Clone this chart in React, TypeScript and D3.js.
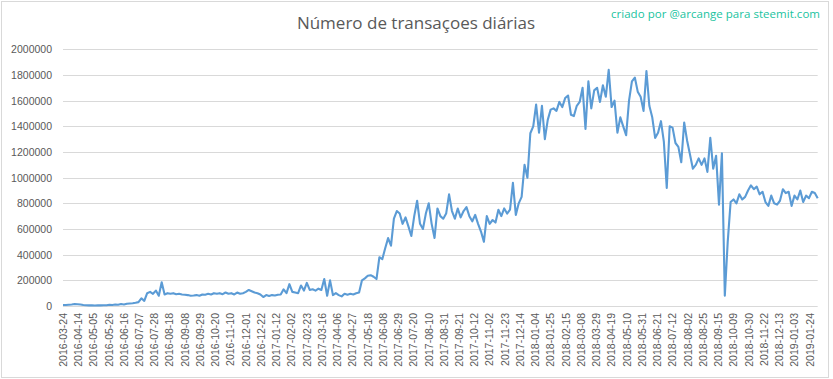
import React from "react";
import * as d3 from "d3";

const W = 833;
const H = 379;

const title = "Número de transaçoes diárias";
const credit = "criado por @arcange para steemit.com";

const xLabels = [
  "2016-03-24", "2016-04-14", "2016-05-05", "2016-05-26", "2016-06-16", "2016-07-07", "2016-07-28",
  "2016-08-18", "2016-09-08", "2016-09-29", "2016-10-20", "2016-11-10", "2016-12-01", "2016-12-22",
  "2017-01-12", "2017-02-02", "2017-02-23", "2017-03-16", "2017-04-06", "2017-04-27", "2017-05-18",
  "2017-06-08", "2017-06-29", "2017-07-20", "2017-08-10", "2017-08-31", "2017-09-21", "2017-10-12",
  "2017-11-02", "2017-11-23", "2017-12-14", "2018-01-04", "2018-01-25", "2018-02-15", "2018-03-08",
  "2018-03-29", "2018-04-19", "2018-05-10", "2018-05-31", "2018-06-21", "2018-07-12", "2018-08-02",
  "2018-08-25", "2018-09-15", "2018-10-09", "2018-10-30", "2018-11-22", "2018-12-13", "2019-01-03",
  "2019-01-24",
];
const labelStep = 21; // categories between labels
const sampleStep = 4; // categories between sampled values

const yTicks = [0, 200000, 400000, 600000, 800000, 1000000, 1200000, 1400000, 1600000, 1800000, 2000000];

// daily transactions (thousands), sampled every 4 days
const txThousands = [
  8, 8, 10, 12, 15, 14, 12, 8, 6, 5, 5, 4, 5, 5, 6, 6, 10, 8, 12, 10,
  15, 12, 18, 20, 22, 25, 30, 60, 40, 100, 110, 95, 120, 80, 185, 90, 100, 95, 100, 92,
  95, 90, 88, 85, 80, 82, 85, 80, 90, 88, 95, 90, 100, 95, 100, 92, 105, 95, 100, 90,
  105, 95, 100, 110, 125, 115, 105, 100, 90, 70, 85, 78, 85, 82, 88, 90, 130, 100, 170, 110,
  105, 100, 160, 120, 180, 125, 130, 120, 135, 125, 210, 80, 200, 85, 100, 85, 75, 95, 88, 95,
  90, 100, 105, 200, 215, 235, 240, 228, 210, 380, 365, 450, 529, 470, 680, 740, 720, 640, 690, 620,
  545, 700, 820, 640, 600, 720, 800, 640, 530, 760, 700, 680, 720, 870, 740, 680, 760, 690, 740, 770,
  700, 660, 710, 640, 580, 500, 700, 640, 670, 650, 750, 700, 760, 720, 750, 960, 710, 800, 850, 1100,
  1000, 1346, 1400, 1570, 1350, 1560, 1300, 1450, 1530, 1540, 1520, 1590, 1550, 1620, 1640, 1490, 1480, 1560, 1590, 1700,
  1380, 1750, 1540, 1680, 1700, 1590, 1720, 1630, 1840, 1550, 1600, 1350, 1470, 1400, 1330, 1600, 1750, 1780, 1670, 1630,
  1520, 1830, 1560, 1470, 1310, 1350, 1440, 1280, 920, 1400, 1390, 1270, 1240, 1120, 1430, 1290, 1180, 1070, 1100, 1150,
  1100, 1150, 1045, 1310, 1070, 1170, 790, 1190, 80, 500, 810, 830, 800, 870, 830, 850, 900, 940, 910, 930,
  870, 890, 810, 780, 860, 800, 790, 820, 910, 880, 890, 780, 860, 830, 900, 810, 860, 840, 890, 880,
  840,
];

const margin = { left: 63, right: W - 817.7, top: 49.3, bottom: H - 306 };

export default function App() {
  const lastIdx = (txThousands.length - 1) * sampleStep;
  const x = d3.scaleLinear().domain([0, lastIdx]).range([margin.left, W - margin.right]);
  const y = d3.scaleLinear().domain([0, 2000000]).range([H - margin.bottom, margin.top]);

  const line = d3
    .line<number>()
    .x((_, i) => x(i * sampleStep))
    .y((d) => y(d * 1000));

  const font = "'Liberation Sans', Arial, sans-serif";

  return (
    <svg
      width={W}
      height={H}
      style={{ position: "absolute", left: 0, top: 0, background: "#fff" }}
      fontFamily={font}
    >
      <rect x={0} y={0} width={W} height={H} fill="#fff" />
      <rect x={1.5} y={1.5} width={827} height={376} fill="none" stroke="#d9d9d9" strokeWidth={1} />
      <text x={416} y={29} textAnchor="middle" fontFamily="'Open Sans', sans-serif" fontSize={17} fill="#595959">
        {title}
      </text>
      <text x={820} y={18} textAnchor="end" fontFamily="'Open Sans', sans-serif" fontSize={11.5} fill="#20c3a0" textLength={209}>
        {credit}
      </text>
      {yTicks.map((t) => (
        <g key={t}>
          <line x1={margin.left} x2={W - margin.right} y1={Math.round(y(t)) + 0.5} y2={Math.round(y(t)) + 0.5} stroke="#d9d9d9" strokeWidth={1} />
          <text x={52} y={y(t) + 4} textAnchor="end" fontSize={10.5} fill="#595959">
            {d3.format("d")(t)}
          </text>
        </g>
      ))}
      <path d={line(txThousands) || ""} fill="none" stroke="#5b9bd5" strokeWidth={2.1} strokeLinejoin="round" />
      {xLabels.map((lab, i) => {
        const xp = x(i * labelStep);
        return (
          <text
            key={lab}
            transform={`translate(${xp + 3.8},${313}) rotate(-90)`}
            textAnchor="end"
            fontSize={10.5}
            fill="#595959"
          >
            {lab}
          </text>
        );
      })}
    </svg>
  );
}
